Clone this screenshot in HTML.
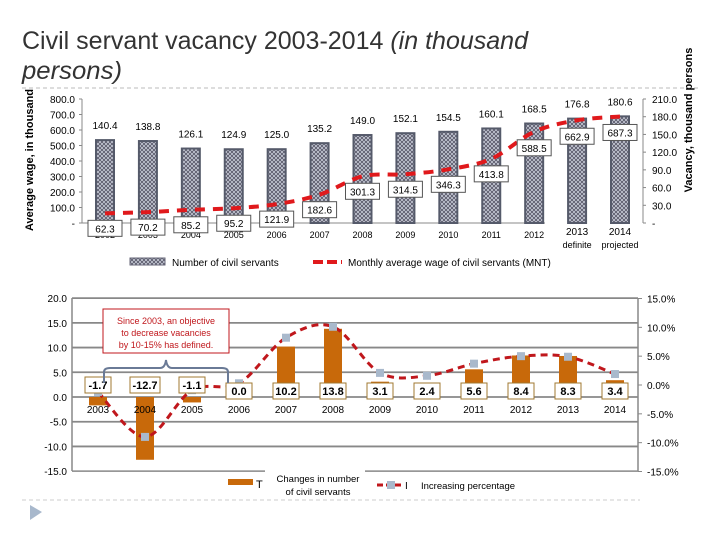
<!DOCTYPE html>
<html><head><meta charset="utf-8"><style>
body{margin:0;background:#fff;width:720px;height:540px;overflow:hidden;font-family:"Liberation Sans",sans-serif}
svg text{font-family:"Liberation Sans",sans-serif}
</style></head><body>
<svg id="c" width="720" height="540" viewBox="0 0 720 540">
<defs>
<pattern id="hatch" width="4" height="4" patternUnits="userSpaceOnUse">
<rect width="4" height="4" fill="#c8ccd8"/><path d="M0 0L4 4M4 0L0 4" stroke="#556" stroke-width="0.8"/>
</pattern>
</defs>
<g>
<text x="22" y="49" font-size="25" fill="#333" textLength="506" lengthAdjust="spacingAndGlyphs">Civil servant vacancy 2003-2014 <tspan font-style="italic">(in thousand</tspan></text>
<text x="22" y="79" font-size="25" fill="#333" font-style="italic" textLength="100" lengthAdjust="spacingAndGlyphs">persons)</text>
</g>
<line x1="22" y1="88" x2="700" y2="88" stroke="#bbb" stroke-dasharray="4,3"/>
<text transform="translate(33,160) rotate(-90)" text-anchor="middle" font-size="11" font-weight="bold">Average wage, in thousand</text>
<text transform="translate(692,120) rotate(-90)" text-anchor="middle" font-size="11" font-weight="bold">Vacancy, thousand persons</text>
<g id="top"></g>
<g id="bot"></g>
<line x1="22" y1="500" x2="640" y2="500" stroke="#ccc" stroke-dasharray="4,3"/>
<polygon points="30,505 30,520 42,512" fill="#a8b8cc"/>
</svg>
<script>
// top chart data
const topCats = ["2002","2003","2004","2005","2006","2007","2008","2009","2010","2011","2012","2013","2014"];
const vacancy = [140.4,138.8,126.1,124.9,125.0,135.2,149.0,152.1,154.5,160.1,168.5,176.8,180.6];
const wage = [62.3,70.2,85.2,95.2,121.9,182.6,301.3,314.5,346.3,413.8,588.5,662.9,687.3];
const leftTicks = [0,100,200,300,400,500,600,700,800];
const rightTicks = [0,30,60,90,120,150,180,210];
// bottom chart data
const botCats = ["2003","2004","2005","2006","2007","2008","2009","2010","2011","2012","2013","2014"];
const changes = [-1.7,-12.7,-1.1,0.0,10.2,13.8,3.1,2.4,5.6,8.4,8.3,3.4];
const pct = [-1.2,-9.0,-0.9,0.3,8.2,10.1,2.1,1.6,3.7,5.0,4.9,1.9];
const botLeftTicks = [-15,-10,-5,0,5,10,15,20];
const botRightTicks = [-15,-10,-5,0,5,10,15];

const NS="http://www.w3.org/2000/svg";
function mk(p,tag,at,txt){const e=document.createElementNS(NS,tag);for(const k in at)e.setAttribute(k,at[k]);if(txt!==undefined)e.textContent=txt;p.appendChild(e);return e;}
function smooth(pts){let d="M"+pts[0][0]+","+pts[0][1];for(let i=0;i<pts.length-1;i++){const p0=pts[i-1]||pts[i],p1=pts[i],p2=pts[i+1],p3=pts[i+2]||p2;const c1=[p1[0]+(p2[0]-p0[0])/6,p1[1]+(p2[1]-p0[1])/6],c2=[p2[0]-(p3[0]-p1[0])/6,p2[1]-(p3[1]-p1[1])/6];d+=` C${c1[0]},${c1[1]} ${c2[0]},${c2[1]} ${p2[0]},${p2[1]}`;}return d;}

// ---- top chart ----
const T=document.getElementById('top');
const tx=i=>105+i*((620-105)/(topCats.length-1));
const tyL=v=>223-v*(124/800);
const tyR=v=>223-v*(124/210);
mk(T,'line',{x1:82,y1:99,x2:82,y2:223,stroke:'#888'});
mk(T,'line',{x1:82,y1:223,x2:545,y2:223,stroke:'#888'});
mk(T,'line',{x1:643,y1:99,x2:643,y2:223,stroke:'#888'});
leftTicks.forEach(v=>{const t=mk(T,'text',{x:75,y:tyL(v)+4,'text-anchor':'end','font-size':10},v===0?'-':v.toFixed(1));


mk(T,'line',{x1:79,y1:tyL(v),x2:82,y2:tyL(v),stroke:'#888'});});
rightTicks.forEach(v=>{const t=mk(T,'text',{x:652,y:tyR(v)+4,'font-size':10},v===0?'-':v.toFixed(1));


mk(T,'line',{x1:643,y1:tyR(v),x2:646,y2:tyR(v),stroke:'#888'});});
topCats.forEach((c,i)=>{
  const x=tx(i),y=tyR(vacancy[i]);
  const b=mk(T,'rect',{x:x-9,y:y,width:18,height:223-y,fill:'url(#hatch)',stroke:'#555a6a','stroke-width':2});
  
  
  const l=mk(T,'text',{x:x,y:y-11,'text-anchor':'middle','font-size':10},vacancy[i].toFixed(1));
  
  
  const lab=i===11?'2013':i===12?'2014':c;
  const cl=mk(T,'text',{x:x,y:i>=11?235:238,'text-anchor':'middle','font-size':i>=11?10:9},lab);
  
  
  if(i>=11){const s=mk(T,'text',{x:x,y:248,'text-anchor':'middle','font-size':9},i===11?'definite':'projected');
    
    }
});
const wpts=wage.map((v,i)=>[tx(i),tyL(v)]);
const wl=mk(T,'path',{d:smooth(wpts),fill:'none',stroke:'#e0191c','stroke-width':4,'stroke-dasharray':'10,8'});


wage.forEach((v,i)=>{
  const x=tx(i);let cy=Math.min(tyL(v)+15,229);if(i>=10)cy=tyL(v)+16;
  const r=mk(T,'rect',{x:x-17,y:cy-8,width:34,height:16,fill:'#fff',stroke:'#555'});
  
  
  const t=mk(T,'text',{x:x,y:cy+4,'text-anchor':'middle','font-size':10},v.toFixed(1));
  
  
});
const lg1=mk(T,'rect',{x:130,y:258,width:35,height:7,fill:'url(#hatch)',stroke:'#667'});


const lg1t=mk(T,'text',{x:172,y:266,'font-size':10},'Number of civil servants');


const lg2=mk(T,'line',{x1:313,y1:262,x2:342,y2:262,stroke:'#e0191c','stroke-width':4,'stroke-dasharray':'10,4'});


const lg2t=mk(T,'text',{x:348,y:266,'font-size':10},'Monthly average wage of civil servants (MNT)');



// ---- bottom chart ----
const B=document.getElementById('bot');
const bx=i=>98+i*47;
const byL=v=>397-v*(173/35);
const byR=v=>385-v*(173/30);
botLeftTicks.forEach(v=>{
  mk(B,'line',{x1:72,y1:byL(v),x2:638,y2:byL(v),stroke:'#888','stroke-width':v===-15?1.5:1.8});
  const t=mk(B,'text',{x:67,y:byL(v)+4,'text-anchor':'end','font-size':10},v.toFixed(1));
  
  
});
mk(B,'line',{x1:72,y1:298,x2:72,y2:471,stroke:'#888','stroke-width':1.5});
mk(B,'line',{x1:638,y1:298,x2:638,y2:471,stroke:'#888','stroke-width':1.5});
botRightTicks.forEach(v=>{
  mk(B,'line',{x1:638,y1:byR(v),x2:642,y2:byR(v),stroke:'#888'});
  const t=mk(B,'text',{x:647,y:byR(v)+4,'font-size':10},v.toFixed(1)+'%');
  
  
});
botCats.forEach((c,i)=>{
  const x=bx(i),v=changes[i],y0=byL(0),y=byL(v);
  const b=mk(B,'rect',{x:x-9,y:Math.min(y,y0),width:18,height:Math.abs(y-y0),fill:'#c8690a'});
  
  
  const t=mk(B,'text',{x:x,y:413,'text-anchor':'middle','font-size':10},c);
  
  
});
const ppts=pct.map((v,i)=>[bx(i),byR(v)]);
const pl=mk(B,'path',{d:smooth(ppts),fill:'none',stroke:'#c0171c','stroke-width':3,'stroke-dasharray':'7,5'});


pct.forEach((v,i)=>{const m=mk(B,'rect',{x:bx(i)-4,y:byR(v)-4,width:8,height:8,fill:'#a9b9cc'});
  
  });
changes.forEach((v,i)=>{
  const x=bx(i),cy=i<3?385:391,w=i===1?30:26;
  const r=mk(B,'rect',{x:x-w/2,y:cy-8,width:w,height:16,fill:'#fff',stroke:'#a07830'});
  
  
  const t=mk(B,'text',{x:x,y:cy+4,'text-anchor':'middle','font-size':11,'font-weight':'bold'},v.toFixed(1));
  
  
});
// annotation
const an=mk(B,'rect',{x:103,y:309,width:126,height:44,fill:'#fff',stroke:'#c0171c'});


['Since 2003, an objective','to decrease vacancies','by 10-15% has defined.'].forEach((s,k)=>{
  const t=mk(B,'text',{x:166,y:324+k*12,'text-anchor':'middle','font-size':9,fill:'#c0171c'},s);
  
  
});
const br=mk(B,'path',{d:'M104,383 L104,372 Q104,368 110,368 L160,368 Q165,368 166,360 Q167,368 172,368 L222,368 Q228,368 228,372 L228,383',fill:'none',stroke:'#6a7a96','stroke-width':2});


// legend
const l1=mk(B,'rect',{x:228,y:479,width:25,height:6,fill:'#c8690a'});


mk(B,'text',{x:256,y:488,'font-size':11},'T');
mk(B,'rect',{x:265,y:469,width:100,height:30,fill:'#fff'});
const l1t=mk(B,'text',{x:318,y:482,'text-anchor':'middle','font-size':9.5},'Changes in number');


mk(B,'text',{x:318,y:495,'text-anchor':'middle','font-size':9.5},'of civil servants');
const l2=mk(B,'line',{x1:377,y1:485,x2:404,y2:485,stroke:'#c0171c','stroke-width':3,'stroke-dasharray':'6,3'});


mk(B,'rect',{x:387,y:481,width:8,height:8,fill:'#a9b9cc'});
mk(B,'text',{x:405,y:489,'font-size':10},'I');
const l2t=mk(B,'text',{x:421,y:489,'font-size':9.5},'Increasing percentage');


</script>
</body></html>
